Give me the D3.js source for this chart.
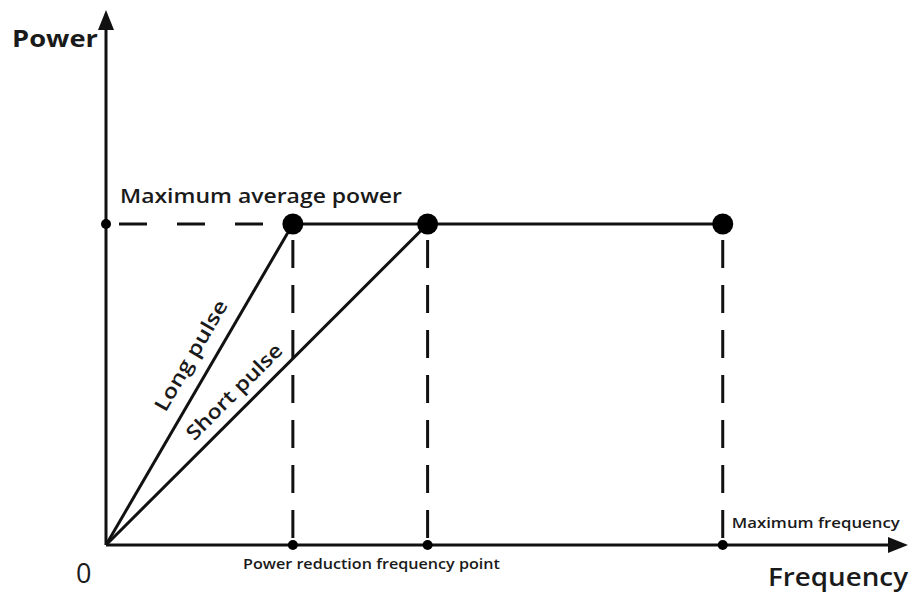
<!DOCTYPE html>
<html>
<head>
<meta charset="utf-8">
<script src="https://cdn.jsdelivr.net/npm/d3@7"></script>
<style>
  body { margin: 0; background: #fff; }
  text { font-family: "Open Sans", "Noto Sans", sans-serif; fill: #1a1a1a; }
</style>
</head>
<body>
<div id="svg"></div>
<script>
// chart data (relative units, 0..100 on both axes)
var maxPower = 60;
var pulses = ["Long pulse", "Short pulse"];
var reductionFreq = [23.3, 40.1];   // power reduction frequency points
var maxFreq = 76.9;                 // maximum frequency
var axisLabels = {x: "Frequency", y: "Power"};

let width = 914, height = 594;
let margin = {top: 10, right: 6, bottom: 49, left: 106};

let svg = d3.select("#svg").append("svg")
    .attr("width", width)
    .attr("height", height);

let x = d3.scaleLinear().domain([0, 100]).range([margin.left, width - margin.right]);
let y = d3.scaleLinear().domain([0, 100]).range([height - margin.bottom, margin.top]);

let stroke = "#111";

// axes with arrows
svg.append("line")
    .attr("x1", x(0)).attr("y1", y(0))
    .attr("x2", x(0)).attr("y2", y(100) + 16)
    .attr("stroke", stroke).attr("stroke-width", 3);
svg.append("path")
    .attr("d", "M" + x(0) + "," + y(100) + "L" + (x(0) - 8) + "," + (y(100) + 20) + "L" + (x(0) + 8) + "," + (y(100) + 20) + "Z")
    .attr("fill", stroke);

svg.append("line")
    .attr("x1", x(0)).attr("y1", y(0))
    .attr("x2", x(100) - 16).attr("y2", y(0))
    .attr("stroke", stroke).attr("stroke-width", 3);
svg.append("path")
    .attr("d", "M" + x(100) + "," + y(0) + "L" + (x(100) - 20) + "," + (y(0) - 8) + "L" + (x(100) - 20) + "," + (y(0) + 8) + "Z")
    .attr("fill", stroke);

// dashed guides
svg.append("line")
    .attr("x1", x(0)).attr("y1", y(maxPower))
    .attr("x2", x(reductionFreq[0])).attr("y2", y(maxPower))
    .attr("stroke", stroke).attr("stroke-width", 3)
    .attr("stroke-dasharray", "0,13,28,17");

let allFreq = reductionFreq.concat([maxFreq]);
svg.append("g").selectAll("line")
    .data(allFreq)
    .join("line")
    .attr("x1", d => x(d)).attr("x2", d => x(d))
    .attr("y1", y(maxPower) + 16).attr("y2", y(0))
    .attr("stroke", stroke).attr("stroke-width", 3)
    .attr("stroke-dasharray", "28,17");

// pulse lines and the max power line
svg.append("g").selectAll("line")
    .data(reductionFreq)
    .join("line")
    .attr("x1", x(0)).attr("y1", y(0))
    .attr("x2", d => x(d)).attr("y2", y(maxPower))
    .attr("stroke", stroke).attr("stroke-width", 3);

svg.append("line")
    .attr("x1", x(reductionFreq[0])).attr("y1", y(maxPower))
    .attr("x2", x(maxFreq)).attr("y2", y(maxPower))
    .attr("stroke", stroke).attr("stroke-width", 3);

// dots
svg.append("g").selectAll("circle")
    .data(allFreq)
    .join("circle")
    .attr("cx", d => x(d)).attr("cy", y(maxPower))
    .attr("r", 10.5).attr("fill", "#000");

svg.append("g").selectAll("circle")
    .data(allFreq)
    .join("circle")
    .attr("cx", d => x(d)).attr("cy", y(0))
    .attr("r", 5).attr("fill", "#000");

svg.append("circle")
    .attr("cx", x(0)).attr("cy", y(maxPower))
    .attr("r", 5).attr("fill", "#000");

// pulse labels along the lines
let pulsePos = [{t: 0.556, off: -15, len: 125}, {t: 0.438, off: -11, len: 127}];
pulses.forEach(function(name, i) {
    let x0 = x(0), y0 = y(0), x1 = x(reductionFreq[i]), y1 = y(maxPower);
    let ang = Math.atan2(y1 - y0, x1 - x0) * 180 / Math.PI;
    let p = pulsePos[i];
    let px = x0 + (x1 - x0) * p.t, py = y0 + (y1 - y0) * p.t;
    svg.append("text")
        .attr("transform", "translate(" + px + "," + py + ") rotate(" + ang + ") translate(0," + p.off + ")")
        .attr("text-anchor", "middle")
        .attr("font-size", 20).attr("font-weight", 600)
        .attr("textLength", p.len).attr("lengthAdjust", "spacingAndGlyphs")
        .text(name);
});

// text labels
svg.append("text")
    .attr("x", 12).attr("y", 47)
    .attr("font-size", 24).attr("font-weight", 700)
    .attr("textLength", 86).attr("lengthAdjust", "spacingAndGlyphs")
    .text(axisLabels.y);

svg.append("text")
    .attr("x", 768).attr("y", 586)
    .attr("font-size", 25).attr("font-weight", 600)
    .attr("textLength", 140).attr("lengthAdjust", "spacingAndGlyphs")
    .text(axisLabels.x);

svg.append("text")
    .attr("x", 120).attr("y", 203)
    .attr("font-size", 19).attr("font-weight", 600)
    .attr("textLength", 282).attr("lengthAdjust", "spacingAndGlyphs")
    .text("Maximum average power");

svg.append("text")
    .attr("x", 76).attr("y", 583)
    .attr("font-size", 27)
    .text("0");

svg.append("text")
    .attr("x", 243).attr("y", 569)
    .attr("font-size", 13.5).attr("font-weight", 600)
    .attr("textLength", 257).attr("lengthAdjust", "spacingAndGlyphs")
    .text("Power reduction frequency point");

svg.append("text")
    .attr("x", x(maxFreq) + 9).attr("y", 528)
    .attr("font-size", 13.5).attr("font-weight", 600)
    .attr("textLength", 168).attr("lengthAdjust", "spacingAndGlyphs")
    .text("Maximum frequency");
</script>
</body>
</html>
